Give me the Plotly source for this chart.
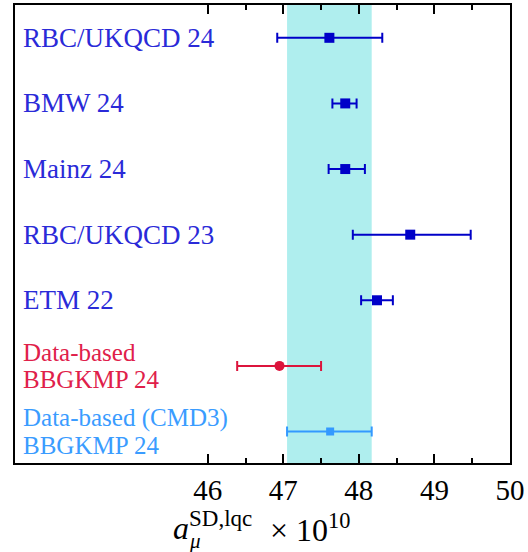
import plotly.graph_objects as go

labels = ["RBC/UKQCD 24", "BMW 24", "Mainz 24", "RBC/UKQCD 23", "ETM 22",
          "Data-based<br>BBGKMP 24", "Data-based (CMD3)<br>BBGKMP 24"]
centers = [47.61, 47.82, 47.82, 48.68, 48.24, 46.95, 47.62]
err_lo = [46.92, 47.65, 47.60, 47.92, 48.03, 46.39, 47.05]
err_hi = [48.31, 47.97, 48.08, 49.48, 48.45, 47.50, 48.17]
colors = ["#0000c8", "#0000c8", "#0000c8", "#0000c8", "#0000c8", "#dc143c", "#3399ff"]
label_colors = ["#2a2ad8", "#2a2ad8", "#2a2ad8", "#2a2ad8", "#2a2ad8", "#e0204a", "#3a9cff"]
symbols = ["square", "square", "square", "square", "square", "circle", "square"]
sizes = [10, 10, 10, 10, 10, 10, 8]
band = [47.05, 48.17]
xticks = [46, 47, 48, 49, 50]
minor_ticks = [46.5, 47.5, 48.5, 49.5]
xrange_ = [43.45, 50]

SERIF = "Liberation Serif"
fig = go.Figure()
fig.add_vrect(x0=band[0], x1=band[1], fillcolor="#afeeee", line_width=0, layer="below")

for i in range(len(labels)):
    fig.add_trace(go.Scatter(
        x=[centers[i]], y=[i], mode="markers",
        marker=dict(symbol=symbols[i], size=sizes[i], color=colors[i]),
        error_x=dict(type="data", symmetric=False,
                     array=[err_hi[i] - centers[i]],
                     arrayminus=[centers[i] - err_lo[i]],
                     color=colors[i], thickness=2, width=5),
        showlegend=False, hoverinfo="skip"))
    lines = labels[i].split("<br>")
    n = len(lines)
    fsize = 27 if n == 1 else 25
    step = 27
    for k, ln in enumerate(lines):
        fig.add_annotation(
            x=0.012, xref="paper", y=i, yref="y", text=ln, showarrow=False,
            xanchor="left", yanchor="middle", yshift=(n - 1) * step / 2 - k * step,
            font=dict(family=SERIF, size=fsize, color=label_colors[i]))

# empty trace so the overlay axis carrying the half-unit ticks is drawn
fig.add_trace(go.Scatter(x=[], y=[], xaxis="x2", yaxis="y", showlegend=False, hoverinfo="skip"))

# axis title built from pieces (stacked sub/superscript)
def pa(px, py, text, size):
    fig.add_annotation(x=(px - 15) / 495, y=(463 - py) / 460, xref="paper", yref="paper",
                       text=text, showarrow=False, xanchor="left", yanchor="middle",
                       font=dict(family=SERIF, size=size, color="black"))
pa(171, 528, "<i>a</i>", 32)
pa(187, 519, "SD,lqc", 23)
pa(187, 541, "<i>μ</i>", 21)
pa(268, 528, "× 10<sup>10</sup>", 32)

fig.update_layout(
    xaxis=dict(range=xrange_, tickmode="array", tickvals=xticks, ticktext=[str(v) for v in xticks],
               ticks="inside", ticklen=9, tickwidth=2, tickcolor="black",
               showline=True, linecolor="black", linewidth=2, mirror="ticks",
               showgrid=False, zeroline=False,
               tickfont=dict(family=SERIF, size=29, color="black")),
    xaxis2=dict(range=xrange_, overlaying="x", anchor="y", side="bottom",
                tickmode="array", tickvals=minor_ticks, showticklabels=False,
                ticks="inside", ticklen=5, tickwidth=2, tickcolor="black",
                showline=False, mirror="ticks", showgrid=False, zeroline=False),
    yaxis=dict(range=[6.48, -0.5], showticklabels=False, ticks="",
               showline=True, linecolor="black", linewidth=2, mirror=True,
               showgrid=False, zeroline=False),
    width=528, height=552, margin=dict(l=15, r=18, t=3, b=89),
    plot_bgcolor="white", paper_bgcolor="white")
fig.write_html("out.html")
